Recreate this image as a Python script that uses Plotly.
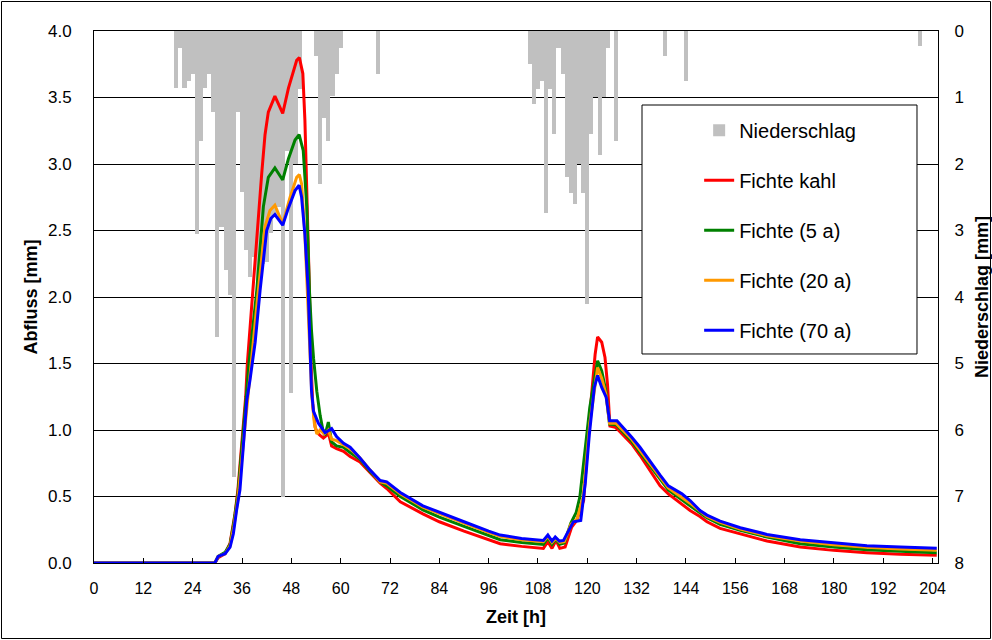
import plotly.graph_objects as go

# ---------------- data ----------------
precip_hours = [20, 21, 22, 23, 24, 25, 26, 27, 28, 29, 30, 31, 32, 33, 34, 35, 36, 37, 38, 39,
                40, 41, 42, 43, 44, 45, 46, 47, 48, 49, 50,
                54, 55, 56, 57, 58, 59, 60, 69,
                106, 107, 108, 109, 110, 111, 112, 113, 114, 115, 116, 117, 118, 119, 120,
                121, 122, 123, 124, 125, 127, 139, 144, 201]
precip_mm = [0.86, 0.25, 0.86, 0.75, 0.64, 3.05, 1.65, 0.86, 0.64, 1.22, 4.6, 2.95, 3.6, 3.97, 6.7,
             1.22, 2.42, 3.3, 3.7, 3.4, 3.75, 3.5, 3.47, 3.04, 2.8, 2.65, 7.0, 1.8, 5.45, 2.0, 0.87,
             0.38, 2.3, 1.31, 1.65, 0.98, 0.64, 0.25, 0.64,
             0.5, 1.1, 0.87, 0.75, 2.73, 0.87, 1.55, 0.25, 0.64, 2.2, 2.43, 2.6, 2.0, 2.43, 4.1,
             1.55, 0.99, 1.87, 0.99, 0.25, 1.65, 0.37, 0.75, 0.22]

kahl = [(0, 0), (29.4, 0), (30.2, 0.04), (31.9, 0.07), (33.1, 0.15), (34.3, 0.37), (35.0, 0.55),
        (36.0, 0.9), (36.9, 1.25), (37.3, 1.5), (38.6, 2.05), (39.6, 2.5), (40.8, 2.93), (41.6, 3.22),
        (42.4, 3.39), (44.0, 3.51), (45.9, 3.38), (47.3, 3.57), (48.35, 3.69), (49.3, 3.78), (49.95, 3.8),
        (50.8, 3.68), (51.3, 3.33), (51.9, 2.68), (52.4, 2.05), (52.8, 1.5), (53.2, 1.2), (53.8, 1.02),
        (54.3, 0.98), (55.0, 0.96), (55.8, 0.94), (56.6, 0.96), (57.0, 0.98), (57.8, 0.88), (59.0, 0.86),
        (60.7, 0.84), (62.3, 0.8), (64.7, 0.76), (67.1, 0.68), (69.6, 0.6), (71.2, 0.56), (74.5, 0.46),
        (80, 0.37), (84, 0.31), (90, 0.24), (96, 0.175), (98.8, 0.145), (104, 0.125), (109.3, 0.11),
        (110.4, 0.16), (111.4, 0.11), (112.4, 0.17), (113.3, 0.11), (114.6, 0.12), (116.2, 0.27),
        (117.4, 0.32), (119.1, 0.47), (120.7, 1.145), (121.9, 1.57), (122.5, 1.7), (123.5, 1.66),
        (124.3, 1.545), (124.9, 1.345), (125.5, 1.03), (126.8, 1.02), (127.7, 0.995), (130.8, 0.895),
        (132.8, 0.81), (135.3, 0.695), (137.7, 0.58), (139.7, 0.52), (143, 0.445), (145, 0.395),
        (147.4, 0.35), (149.1, 0.31), (152.3, 0.26), (157.2, 0.22), (163.7, 0.165), (171.8, 0.12),
        (179.9, 0.095), (188, 0.078), (196.1, 0.065), (205, 0.058)]

fichte5 = [(0, 0), (29.4, 0), (30.2, 0.05), (31.9, 0.08), (33.1, 0.14), (34.0, 0.3), (35.0, 0.52),
           (36.0, 0.85), (36.9, 1.2), (37.7, 1.5), (39.6, 2.05), (41.2, 2.68), (42.4, 2.9), (44.0, 2.97),
           (45.9, 2.88), (47.3, 3.04), (48.9, 3.18), (49.9, 3.22), (50.9, 3.1), (51.75, 2.68), (52.4, 2.05),
           (52.9, 1.75), (53.4, 1.54), (54.2, 1.29), (55.0, 1.11), (55.8, 0.98), (56.2, 0.96), (57.0, 1.06),
           (57.8, 0.91), (59.0, 0.88), (60.7, 0.87), (62.3, 0.83), (64.7, 0.78), (67.1, 0.69), (69.6, 0.61),
           (71.2, 0.58), (74.5, 0.5), (80, 0.4), (84, 0.345), (90, 0.275), (96, 0.205), (98.8, 0.175),
           (104, 0.155), (109.3, 0.14), (110.4, 0.19), (111.4, 0.14), (112.3, 0.18), (113.3, 0.14),
           (114.4, 0.15), (116, 0.3), (117.3, 0.38), (118.2, 0.5), (120.6, 1.17), (122.5, 1.52),
           (123.5, 1.445), (124.5, 1.295), (125.4, 1.045), (127, 1.04), (130.8, 0.915), (135.3, 0.73),
           (139.7, 0.55), (145, 0.43), (149.1, 0.34), (152.3, 0.29), (157.2, 0.245), (163.7, 0.195),
           (171.8, 0.145), (179.9, 0.12), (188, 0.1), (196.1, 0.088), (205, 0.078)]

fichte20 = [(0, 0), (29.4, 0), (30.2, 0.05), (31.9, 0.07), (33.1, 0.13), (34.0, 0.27), (35.0, 0.48),
            (36.0, 0.8), (37.0, 1.15), (38.0, 1.45), (39.98, 2.05), (41.6, 2.53), (42.8, 2.65), (44.0, 2.69),
            (45.9, 2.55), (47.7, 2.75), (49.3, 2.9), (49.95, 2.92), (50.5, 2.85), (51.3, 2.47), (51.9, 2.05),
            (52.5, 1.6), (53.0, 1.25), (53.6, 1.05), (54.2, 0.97), (55.0, 1.0), (56.0, 0.97), (57.0, 1.0),
            (57.8, 0.93), (59.0, 0.92), (60.7, 0.89), (62.3, 0.86), (64.7, 0.79), (67.1, 0.7), (69.6, 0.61),
            (71.2, 0.6), (74.5, 0.52), (80, 0.42), (84, 0.37), (90, 0.3), (96, 0.23), (98.8, 0.2),
            (104, 0.175), (109.3, 0.16), (110.4, 0.2), (111.4, 0.155), (112.3, 0.185), (113.3, 0.155),
            (114.4, 0.16), (116, 0.29), (117.5, 0.33), (119, 0.5), (120.6, 1.05), (122.5, 1.47),
            (123.5, 1.39), (124.5, 1.27), (125.4, 1.05), (127, 1.05), (130.8, 0.93), (135.3, 0.745),
            (139.7, 0.565), (145, 0.45), (149.1, 0.35), (152.3, 0.305), (157.2, 0.255), (163.7, 0.205),
            (171.8, 0.165), (179.9, 0.138), (188, 0.118), (196.1, 0.105), (205, 0.095)]

fichte70 = [(0, 0), (29.4, 0), (30.2, 0.05), (31.9, 0.07), (33.1, 0.12), (33.9, 0.22), (34.7, 0.4),
            (35.5, 0.55), (36.3, 0.87), (37.15, 1.22), (37.96, 1.38), (39.2, 1.66), (40.4, 2.05), (42.0, 2.5),
            (43.0, 2.59), (44.0, 2.62), (45.9, 2.54), (47.3, 2.67), (48.9, 2.8), (49.9, 2.84), (50.5, 2.75),
            (51.3, 2.47), (52.1, 2.05), (52.5, 1.6), (52.9, 1.3), (53.4, 1.14), (54.6, 1.05), (56.2, 0.98),
            (57.8, 1.01), (59.0, 0.95), (60.7, 0.9), (62.3, 0.87), (64.7, 0.79), (67.1, 0.7), (69.6, 0.62),
            (71.2, 0.61), (74.5, 0.53), (80, 0.43), (84, 0.38), (90, 0.31), (96, 0.24), (98.8, 0.21),
            (104, 0.185), (109.3, 0.17), (110.4, 0.21), (111.4, 0.165), (112.2, 0.195), (113.2, 0.165),
            (114.2, 0.17), (115.4, 0.245), (116.6, 0.31), (118.4, 0.32), (119.5, 0.6), (120.5, 0.97),
            (121.7, 1.32), (122.5, 1.41), (123.5, 1.32), (124.6, 1.245), (125.4, 1.07), (127.2, 1.07),
            (128.4, 1.03), (130.8, 0.945), (132.8, 0.87), (135.3, 0.76), (137.7, 0.66), (139.7, 0.58),
            (143, 0.52), (145, 0.47), (147.4, 0.395), (149.1, 0.36), (152.3, 0.315), (157.2, 0.265),
            (163.7, 0.215), (171.8, 0.175), (179.9, 0.15), (188, 0.13), (196.1, 0.12), (205, 0.11)]

series = [("Fichte kahl", kahl, "#ff0000"),
          ("Fichte (5 a)", fichte5, "#008000"),
          ("Fichte (20 a)", fichte20, "#ff9900"),
          ("Fichte (70 a)", fichte70, "#0000ff")]

x_ticks = list(range(0, 205, 12))

# ---------------- figure ----------------
FONT = "Liberation Sans, Arial, sans-serif"
fig = go.Figure()

fig.add_trace(go.Bar(x=precip_hours, y=precip_mm, width=1.0, name="Niederschlag",
                     marker=dict(color="#c0c0c0", line=dict(width=0)),
                     yaxis="y", legendgroup="n"))

for name, pts, col in series:
    fig.add_trace(go.Scatter(x=[p[0] for p in pts], y=[p[1] for p in pts], mode="lines",
                             name=name, line=dict(color=col, width=3),
                             yaxis="y2", legendgroup=name))

fig.update_layout(
    width=992, height=640, autosize=False,
    margin=dict(l=94, r=54, t=31, b=77, pad=0),
    paper_bgcolor="white", plot_bgcolor="white",
    font=dict(family=FONT, size=16, color="black"),
    showlegend=True,
    bargap=0,
    legend=dict(x=0.717, y=0.850, xanchor="left", yanchor="top",
                bgcolor="rgba(0,0,0,0)", borderwidth=0,
                font=dict(family=FONT, size=20, color="black"),
                tracegroupgap=21, traceorder="grouped"),
    xaxis=dict(range=[0, 205.3], tickvals=x_ticks, ticks="inside", ticklen=5,
               tickcolor="black", showgrid=False, zeroline=False, automargin=False,
               showline=True, linecolor="black", linewidth=1, mirror=True,
               tickfont=dict(size=16), ticklabelstandoff=11,
               title=dict(text="<b>Zeit [h]</b>", font=dict(size=18), standoff=14)),
    yaxis=dict(range=[8, 0], dtick=1, side="right", ticks="inside", ticklen=5,
               tickcolor="black", showgrid=True, gridcolor="black", gridwidth=1,
               zeroline=False, showline=True, linecolor="black", linewidth=1, automargin=False,
               tickfont=dict(size=17), ticklabelstandoff=12,
               title=dict(text="<b>Niederschlag [mm]</b>", font=dict(size=18), standoff=13)),
    yaxis2=dict(range=[0, 4], dtick=0.5, tickformat=".1f", side="left", overlaying="y",
                ticks="inside", ticklen=5, tickcolor="black", showgrid=False, zeroline=False,
                showline=True, linecolor="black", linewidth=1, automargin=False,
                tickfont=dict(size=17), ticklabelstandoff=18,
                title=dict(text="<b>Abfluss [mm]</b>", font=dict(size=18), standoff=5)),
)

# legend frame and outer chart border
fig.add_shape(type="rect", xref="paper", yref="paper",
              x0=0.6493, x1=0.9751, y0=0.3929, y1=0.8609,
              line=dict(color="black", width=1), fillcolor="white", layer="above")
fig.add_shape(type="rect", xref="paper", yref="paper",
              x0=(1.5 - 94) / 844, x1=(990.5 - 94) / 844,
              y0=(563 - 638.5) / 532, y1=(563 - 1.5) / 532,
              line=dict(color="black", width=1), fillcolor="rgba(0,0,0,0)", layer="below")

fig.write_html("out.html", config={"displayModeBar": False},
               post_script="document.body.style.margin='0px';")
